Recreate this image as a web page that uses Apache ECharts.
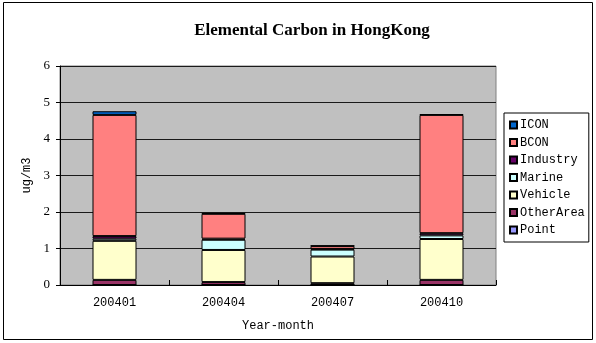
<!DOCTYPE html>
<html>
<head>
<meta charset="utf-8">
<script src="https://cdn.jsdelivr.net/npm/echarts@6/dist/echarts.min.js"></script>
<style>
  html, body { margin: 0; padding: 0; background: #fff; }
  #chart { width: 596px; height: 343px; }
</style>
</head>
<body>
<div id="chart"></div>
<script>
// Monthly elemental carbon contributions (ug/m3) by source
const months = ['200401', '200404', '200407', '200410'];
const pointSrc  = [0, 0, 0, 0];
const otherArea = [0.14, 0.08, 0.05, 0.14];
const vehicle   = [1.07, 0.88, 0.73, 1.12];
const marine    = [0.06, 0.28, 0.19, 0.10];
const industry  = [0.07, 0.03, 0.02, 0.06];
const bcon      = [3.32, 0.68, 0.08, 3.24];
const icon      = [0.10, 0.02, 0.01, 0.02];
const yTicks = [0, 1, 2, 3, 4, 5, 6];

const mono = 'Liberation Mono';
const serif = 'Liberation Serif';

// stacking order bottom -> top
const stackDefs = [
  { name: 'Point',     data: pointSrc,  color: '#9999FF' },
  { name: 'OtherArea', data: otherArea, color: '#993366' },
  { name: 'Vehicle',   data: vehicle,   color: '#FFFFCC' },
  { name: 'Marine',    data: marine,    color: '#CCFFFF' },
  { name: 'Industry',  data: industry,  color: '#660066' },
  { name: 'BCON',      data: bcon,      color: '#FF8080' },
  { name: 'ICON',      data: icon,      color: '#0066CC' }
];

const chart = echarts.init(document.getElementById('chart'), null, { renderer: 'canvas' });

chart.setOption({
  animation: false,
  backgroundColor: '#fff',
  title: {
    text: 'Elemental Carbon in HongKong',
    left: 307,
    textAlign: 'center',
    top: 17,
    textStyle: { fontFamily: serif, fontWeight: 'bold', fontSize: 17, color: '#000' }
  },
  graphic: [
    {
      type: 'rect',
      shape: { x: 3.5, y: 2.5, width: 589, height: 337 },
      style: { fill: 'none', stroke: '#000', lineWidth: 1 },
      z: -1
    }
  ],
  legend: {
    orient: 'vertical',
    left: 504,
    top: 113,
    width: 84,
    padding: [6, 4, 6, 5],
    itemWidth: 7,
    itemHeight: 7,
    itemGap: 5.5,
    icon: 'rect',
    borderColor: '#000',
    borderWidth: 1,
    backgroundColor: '#fff',
    data: ['ICON', 'BCON', 'Industry', 'Marine', 'Vehicle', 'OtherArea', 'Point'],
    textStyle: { fontFamily: mono, fontSize: 12, color: '#000', padding: [0, 0, 0, -2] }
  },
  grid: {
    left: 60,
    right: 100,
    top: 66,
    bottom: 58,
    show: true,
    backgroundColor: '#C0C0C0',
    borderColor: '#808080',
    borderWidth: 1
  },
  xAxis: {
    type: 'category',
    data: months,
    boundaryGap: true,
    name: 'Year-month',
    nameLocation: 'middle',
    nameGap: 35,
    nameTextStyle: { fontFamily: mono, fontSize: 12, color: '#000' },
    axisLine: { lineStyle: { color: '#000', width: 1 } },
    axisTick: { show: true, inside: true, length: 5, lineStyle: { color: '#000' } },
    axisLabel: { fontFamily: mono, fontSize: 12, color: '#000', margin: 12 }
  },
  yAxis: {
    type: 'value',
    min: 0,
    max: 6,
    interval: 1,
    name: 'ug/m3',
    nameLocation: 'middle',
    nameGap: 25,
    nameRotate: 90,
    nameTextStyle: { fontFamily: mono, fontSize: 12, color: '#000' },
    axisLine: { show: true, lineStyle: { color: '#000', width: 1 } },
    axisTick: { show: true, length: 4, lineStyle: { color: '#000' } },
    axisLabel: {
      fontFamily: serif, fontSize: 13, color: '#000', margin: 10,
      formatter: v => (yTicks.includes(v) ? String(v) : '')
    },
    splitLine: { show: true, lineStyle: { color: '#1a1a1a', width: 1 } }
  },
  series: stackDefs.map(s => ({
    name: s.name,
    type: 'bar',
    stack: 'ec',
    barWidth: 44,
    data: s.data,
    itemStyle: { color: s.color, borderColor: '#000', borderWidth: 1 }
  }))
});
</script>
</body>
</html>
